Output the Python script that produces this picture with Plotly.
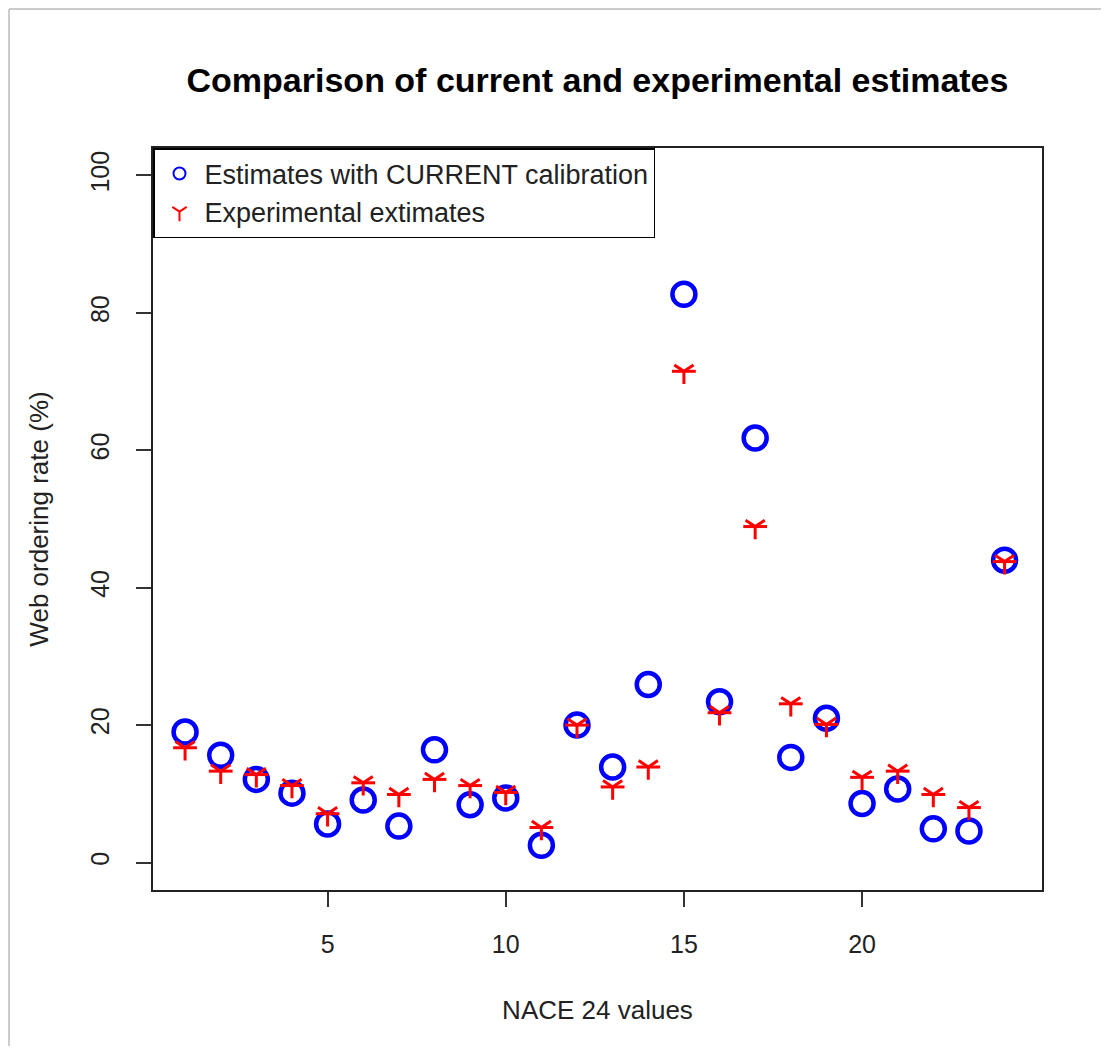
import plotly.graph_objects as go

nace = list(range(1, 25))
current = [19.0, 15.6, 12.1, 10.1, 5.6, 9.1, 5.3, 16.4, 8.4, 9.4, 2.5, 20.0,
           13.9, 25.9, 82.7, 23.4, 61.8, 15.3, 21.0, 8.6, 10.7, 4.9, 4.6, 44.0]
experimental = [16.7, 13.3, 12.8, 11.2, 7.1, 11.6, 9.9, 12.1, 11.2, 10.2, 5.1, 20.0,
                11.0, 13.9, 71.5, 21.8, 48.9, 23.1, 20.1, 12.4, 13.3, 9.9, 8.0, 43.8]
x_ticks = [5, 10, 15, 20]
y_ticks = [0, 20, 40, 60, 80, 100]

FONT = "Liberation Sans, Arial, sans-serif"
OFF = 8  # default body margin of the page
W, H = 1109 - 2 * OFF, 1054 - 2 * OFF
L, T = 153 - OFF, 148 - OFF
R = W - (1042 - OFF)
B = H - (890 - OFF)

fig = go.Figure()
fig.add_trace(go.Scatter(
    x=nace, y=current, mode="markers", name="Estimates with CURRENT calibration",
    marker=dict(symbol="circle-open", size=23, color="#0000ff",
                line=dict(color="#0000ff", width=4.5)),
))
fig.add_trace(go.Scatter(
    x=nace, y=experimental, mode="markers", name="Experimental extimates",
    marker=dict(symbol="y-down-open", size=16, color="#ff0000",
                line=dict(color="#ff0000", width=3)),
))
fig.add_trace(go.Scatter(
    x=nace, y=experimental, mode="markers", showlegend=False, hoverinfo="skip",
    marker=dict(symbol="line-ew-open", size=17, color="#ff0000",
                line=dict(color="#ff0000", width=3)),
))

pw = W - L - R
ph = H - T - B
fig.update_layout(
    width=W, height=H, autosize=False,
    margin=dict(l=L, r=R, t=T, b=B, pad=0),
    paper_bgcolor="white", plot_bgcolor="white",
    font=dict(family=FONT, color="#222222", size=25),
    title=dict(text="<b>Comparison of current and experimental estimates</b>",
               font=dict(family=FONT, size=34, color="black"),
               x=0.5, xref="paper", xanchor="center",
               y=1 - (80 - OFF) / H, yref="container", yanchor="middle"),
    legend=dict(x=0, y=1, xanchor="left", yanchor="top",
                bgcolor="white", bordercolor="black", borderwidth=1.5,
                font=dict(family=FONT, size=27, color="#222222"),
                itemsizing="constant", itemwidth=40, tracegroupgap=0),
    showlegend=True,
    xaxis=dict(range=[0.1, 25.05], tickvals=x_ticks, ticks="outside", ticklen=15,
               tickwidth=1.5, tickcolor="#333333", showgrid=False, zeroline=False,
               showline=True, mirror=True, linecolor="#222222", linewidth=1.5,
               tickfont=dict(size=25, family=FONT, color="#222222"),
               ticklabelstandoff=16,
               title=dict(text="NACE 24 values", standoff=44,
                          font=dict(size=26, family=FONT, color="#222222"))),
    yaxis=dict(range=[-4, 104], tickvals=y_ticks, ticks="outside", ticklen=15,
               tickwidth=1.5, tickcolor="#333333", showgrid=False, zeroline=False,
               showline=True, mirror=True, linecolor="#222222", linewidth=1.5,
               tickangle=-90,
               tickfont=dict(size=25, family=FONT, color="#222222"),
               ticklabelstandoff=17,
               title=dict(text="Web ordering rate (%)", standoff=30,
                          font=dict(size=26, family=FONT, color="#222222"))),
    shapes=[
        dict(type="line", xref="paper", yref="paper",
             x0=(1 - L) / pw, x1=(W - L) / pw,
             y0=(H - B - 1) / ph, y1=(H - B - 1) / ph,
             line=dict(color="#cccccc", width=2)),
        dict(type="line", xref="paper", yref="paper",
             x0=(1 - L) / pw, x1=(1 - L) / pw,
             y0=(H - B - 1) / ph, y1=-B / ph,
             line=dict(color="#cccccc", width=2)),
    ],
)

fig.write_html("out.html")
